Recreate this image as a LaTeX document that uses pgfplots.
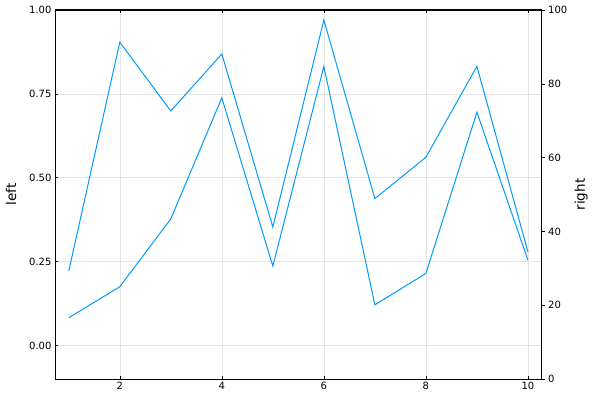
\documentclass[border=0pt]{standalone}
\usepackage{fontspec}
\setmainfont{DejaVu Sans}
\usepackage{pgfplots}
\pgfplotsset{compat=1.18}
\definecolor{jl}{HTML}{009AFA}
\pgfplotstableread{
x y
1 0.222
2 0.904
3 0.699
4 0.869
5 0.353
6 0.970
7 0.438
8 0.561
9 0.832
10 0.279
}\lefttab
\pgfplotstableread{
x y
1 16.6
2 25.0
3 43.4
4 76.2
5 30.6
6 84.7
7 20.1
8 28.6
9 72.3
10 32.2
}\righttab
\begin{document}
\begin{tikzpicture}[x=1pt,y=1pt]
\path[use as bounding box] (0,0) rectangle (600,400);
\begin{axis}[at={(55pt,21pt)}, anchor=south west, scale only axis,
  width=486.7pt, height=369pt,
  xmin=0.73, xmax=10.27, ymin=-0.1, ymax=1.0,
  xtick={2,4,6,8,10}, ytick={0,0.25,0.5,0.75,1},
  /pgf/number format/assume math mode=true,
  yticklabel style={/pgf/number format/fixed, /pgf/number format/fixed zerofill, /pgf/number format/precision=2},
  grid=major, major grid style={black!10, line width=0.5pt},
  axis line style={line width=1pt},
  tick align=inside, major tick length=3pt, tick style={black, line width=0.5pt},
  xtick pos=both, ytick pos=left,
  ticklabel style={font=\fontsize{10}{11}\selectfont},
  ylabel={left}, ylabel style={at={(axis description cs:0,0.5)}, anchor=center, yshift=44pt, font=\fontsize{13.5}{15}\selectfont},
  clip=false,
]
\addplot[jl, line width=1pt] table[x=x,y=y] {\lefttab};
\end{axis}
\begin{axis}[at={(55pt,21pt)}, anchor=south west, scale only axis,
  width=486.7pt, height=369pt,
  xmin=0.73, xmax=10.27, ymin=0, ymax=100,
  axis x line=none, axis y line*=right,
  ytick={0,20,40,60,80,100},
  /pgf/number format/assume math mode=true,
  axis line style={line width=1pt, -},
  tick align=outside, major tick length=3pt, tick style={black, line width=0.5pt},
  ticklabel style={font=\fontsize{10}{11}\selectfont},
  ylabel={right}, ylabel style={at={(axis description cs:1,0.5)}, anchor=center, yshift=-39.5pt, font=\fontsize{13.5}{15}\selectfont},
]
\addplot[jl, line width=1pt] table[x=x,y=y] {\righttab};
\end{axis}
\end{tikzpicture}
\end{document}
